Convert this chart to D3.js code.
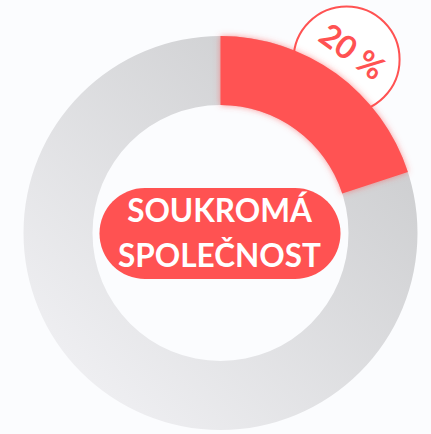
<!DOCTYPE html>
<html>
<head>
<meta charset="utf-8">
<script src="https://cdn.jsdelivr.net/npm/d3@7"></script>
<style>
  html, body { margin: 0; padding: 0; background: #fbfcfe; }
  svg { display: block; }
</style>
</head>
<body>
<svg width="431" height="434"></svg>
<script>
// data
const categories = ['SOUKROMÁ SPOLEČNOST', 'ostatní']
const values = [20, 80]
const centerLines = ['SOUKROMÁ', 'SPOLEČNOST']
const valueLabel = '20 %'

const width = 431, height = 434
const cx = 220.5, cy = 233
const outerR = 197, innerR = 128

const svg = d3.select('svg')
const defs = svg.append('defs')

const grad = defs.append('linearGradient')
  .attr('id', 'ringGrad')
  .attr('x1', '1').attr('y1', '0')
  .attr('x2', '0').attr('y2', '1')
grad.append('stop').attr('offset', '0').attr('stop-color', '#c6c7c9')
grad.append('stop').attr('offset', '1').attr('stop-color', '#f5f5f8')

const glow = defs.append('filter').attr('id', 'glow')
  .attr('x', '-20%').attr('y', '-20%').attr('width', '140%').attr('height', '140%')
glow.append('feDropShadow')
  .attr('dx', 0).attr('dy', 0).attr('stdDeviation', 3)
  .attr('flood-color', '#ff5252').attr('flood-opacity', 0.6)

const g = svg.append('g').attr('transform', `translate(${cx},${cy})`)

const pie = d3.pie().sort(null).value(d => d)
const arcs = pie(values)
const arc = d3.arc().innerRadius(innerR).outerRadius(outerR)

// gray track
g.append('path')
  .attr('d', arc({ startAngle: 0, endAngle: 2 * Math.PI }))
  .attr('fill', 'url(#ringGrad)')

// value label bubble (sits behind the red arc)
const mid = (arcs[0].startAngle + arcs[0].endAngle) / 2
const bubbleR = 214.5
const bx = Math.sin(mid) * bubbleR, by = -Math.cos(mid) * bubbleR
g.append('circle')
  .attr('cx', bx).attr('cy', by).attr('r', 53)
  .attr('fill', '#ffffff')
  .attr('stroke', '#ff5252')
  .attr('stroke-width', 2)

// highlighted slice
g.append('path')
  .attr('d', arc(arcs[0]))
  .attr('fill', '#ff5252')
  .attr('filter', 'url(#glow)')

const tR = 224
g.append('text')
  .attr('transform', `translate(${Math.sin(mid) * tR},${-Math.cos(mid) * tR}) rotate(${mid * 180 / Math.PI})`)
  .attr('text-anchor', 'middle')
  .attr('dy', '0.35em')
  .attr('font-family', 'Lato, sans-serif')
  .attr('font-weight', 'bold')
  .attr('font-size', 32)
  .attr('fill', '#ff5252')
  .text(valueLabel)

// center label
g.append('rect')
  .attr('x', -121).attr('y', -45)
  .attr('width', 241).attr('height', 91)
  .attr('rx', 45.5)
  .attr('fill', '#ff5252')

g.selectAll('text.center')
  .data(centerLines)
  .join('text')
  .attr('class', 'center')
  .attr('x', -1)
  .attr('y', (d, i) => -11 + i * 45)
  .attr('text-anchor', 'middle')
  .attr('font-family', 'Lato, sans-serif')
  .attr('font-weight', 'bold')
  .attr('font-size', 31.5)
  .attr('fill', '#ffffff')
  .text(d => d)
</script>
</body>
</html>
